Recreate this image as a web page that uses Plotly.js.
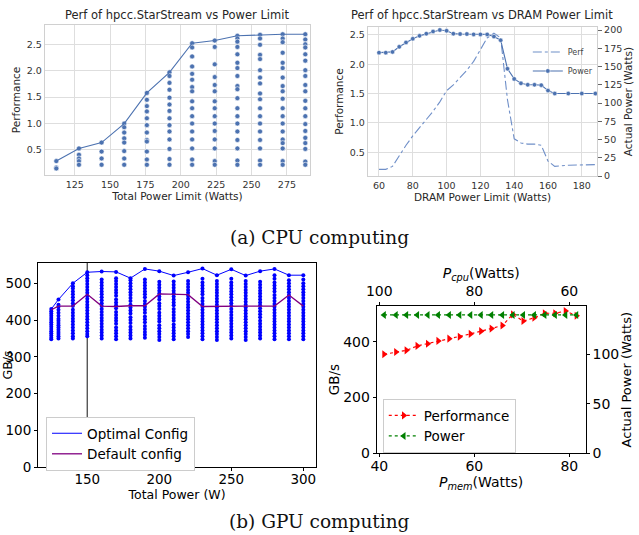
<!DOCTYPE html>
<html>
<head>
<meta charset="utf-8">
<script src="https://cdn.plot.ly/plotly-3.0.1.min.js"></script>
<style>html,body{margin:0;padding:0;background:#fff}#chart{width:639px;height:535px}</style>
</head>
<body>
<div id="chart"></div>
<script>
// ---------- (a) left: Perf vs total power limit ----------
const tlX = [112,128,144,160,176,192,208,224,240,256,272,288];
const tlBest = [0.29,0.53,0.64,1.00,1.58,1.97,2.52,2.57,2.66,2.68,2.69,2.69];
const tlPts = [
 [0.29,0.17,0.15],
 [0.53,0.41,0.34,0.29,0.22],
 [0.64,0.47,0.34,0.22],
 [1.00,0.93,0.83,0.72,0.64,0.48,0.34,0.22],
 [1.58,1.45,1.33,1.23,1.10,0.97,0.83,0.69,0.66,0.47,0.32,0.22],
 [1.97,1.90,1.77,1.64,1.49,1.36,1.24,1.10,0.97,0.85,0.70,0.52,0.33,0.22],
 [2.52,2.44,2.27,2.08,1.94,1.83,1.69,1.61,1.42,1.29,1.14,1.00,0.85,0.70,0.53,0.32,0.22],
 [2.57,2.45,2.12,1.88,1.73,1.61,1.42,1.29,1.14,1.00,0.86,0.70,0.53,0.29,0.22],
 [2.66,2.61,2.55,2.45,2.31,2.15,2.05,1.90,1.71,1.65,1.48,1.29,1.14,1.00,0.85,0.69,0.53,0.30,0.22],
 [2.68,2.61,2.49,2.30,2.22,2.01,1.87,1.76,1.57,1.46,1.29,1.14,1.00,0.85,0.69,0.53,0.30,0.22],
 [2.69,2.61,2.54,2.34,2.15,2.05,1.87,1.71,1.61,1.47,1.29,1.14,1.00,0.85,0.70,0.63,0.53,0.29,0.22],
 [2.69,2.59,2.50,2.44,2.31,2.19,2.01,1.90,1.73,1.61,1.43,1.29,1.14,0.99,0.86,0.73,0.63,0.52,0.28,0.22]
];
const tlXTicks = [125,150,175,200,225,250,275];
const tlYTicks = [0.5,1.0,1.5,2.0,2.5];

// ---------- (a) right: Perf vs DRAM power limit ----------
const trX = [60,64,68,72,76,80,84,88,92,96,100,104,108,112,116,120,124,128,132,136,140,144,148,152,156,160,164,172,180,188];
const trPerf = [0.21,0.21,0.26,0.45,0.62,0.78,0.92,1.05,1.20,1.36,1.55,1.65,1.77,1.90,2.05,2.25,2.45,2.53,2.45,1.40,0.73,0.66,0.64,0.64,0.62,0.35,0.26,0.28,0.29,0.29];
const trPower = [169,169,170,177,183,188,192,195,198,200,199,195,194.5,194.5,194,194,194,191,186,147,133,127,125,125,124.5,117,113,113,113,113];
const trXTicks = [60,80,100,120,140,160,180];
const trYTicks = [0.5,1.0,1.5,2.0,2.5];
const trY2Ticks = [0,25,50,75,100,125,150,175,200];

// ---------- (b) left: GB/s vs total power ----------
const blX = [125,130,140,150,160,170,180,190,200,210,220,230,240,250,260,270,280,290,300];
const blOptimal = [430,456,500,530,532,531,514,539,533,521,530,540,522,538,521,533,539,522,522];
const blDefault = [428,438,438,470,438,437,439,439,471,469,469,437,438,438,438,438,438,468,438];
const blPts = [
 [348,352,358,364,370,376,382,388,394,400,406,412,418,424,430],
 [350,356,362,368,374,380,386,392,398,404,412,420,428,436,442,456],
 [350,356,364,372,380,388,396,404,412,420,428,438,446,454,462,470,478,486,492,500],
 [356,362,370,378,386,394,402,410,418,426,434,442,450,458,466,474,482,490,498,506,514,522,530],
 [350,358,366,374,382,390,398,406,414,422,430,438,446,454,462,470,478,486,494,502,510,532],
 [348,356,364,372,380,390,398,406,414,422,432,440,448,456,466,474,482,490,498,506,514,531],
 [350,358,366,374,382,392,400,408,418,426,434,442,452,460,468,476,484,492,500,508,514],
 [352,360,368,376,384,394,402,410,420,428,436,444,452,462,470,478,486,494,502,510,539],
 [346,354,362,370,378,386,396,404,412,420,430,438,446,456,464,472,480,488,496,504,533],
 [348,356,364,372,380,388,398,406,414,422,430,440,448,456,464,472,480,488,496,505,521],
 [354,362,370,378,386,394,402,410,418,426,434,442,450,458,466,474,482,490,498,506,530],
 [348,356,364,372,380,388,396,404,412,420,428,436,444,452,460,470,478,486,494,502,512,540],
 [346,354,362,370,378,386,394,402,410,418,426,434,442,450,458,466,474,482,490,498,506,522],
 [350,358,366,374,382,390,398,406,414,422,430,438,446,454,462,470,478,486,494,502,512,538],
 [346,354,362,370,378,386,394,402,410,418,426,434,442,450,458,466,474,482,490,498,506,521],
 [350,358,366,374,382,390,398,408,416,424,432,440,448,456,464,472,480,488,496,504,533],
 [348,356,364,372,380,388,396,404,412,420,428,436,444,452,460,468,478,486,494,502,512,522,539],
 [348,356,364,372,380,388,396,404,412,420,428,436,444,452,460,468,476,484,492,500,508,522],
 [348,356,364,372,380,388,396,404,412,420,428,436,444,452,460,468,476,484,492,500,510,522]
];
const blVLine = 150;
const blXTicks = [150,200,250,300];
const blYTicks = [0,100,200,300,400,500];

// ---------- (b) right: GB/s vs P_mem (bottom) / P_cpu (top) ----------
const brMem = [41,43.5,45.7,48,50.2,52.4,54.7,56.9,59.2,61.4,63.6,65.9,68.1,70.3,72.6,74.8,77,79.2,81.5];
const brCpu = [99,96.5,94.3,92,89.8,87.6,85.3,83.1,80.8,78.6,76.4,74.1,71.9,69.7,67.4,65.2,63,60.8,58.5];
const brPerf = [355,363,369,385,393,403,411,418,428,438,447,458,498,474,486,502,502,510,493];
const brPower = [140,140,140,140,140,140,140,140,140,140,140,140,140,140,140,140,140,140,140];
const brMemTicks = [40,60,80];
const brCpuTicks = [60,80,100];
const brYTicks = [0,200,400];
const brY2Ticks = [0,50,100];

const SB = '#4c72b0';
const F = 'DejaVu Sans';

const flatX = (xs, pts) => xs.flatMap((x, i) => pts[i].map(() => x));
const flatY = pts => pts.flat();

const traces = [
  {x: flatX(tlX, tlPts), y: flatY(tlPts), xaxis:'x', yaxis:'y', mode:'markers', type:'scatter',
   marker:{color:SB, size:5, line:{color:'white', width:0.6}}, showlegend:false},
  {x: tlX, y: tlBest, xaxis:'x', yaxis:'y', mode:'lines', type:'scatter',
   line:{color:SB, width:1.1}, showlegend:false},
  {x: trX, y: trPerf, xaxis:'x2', yaxis:'y2', mode:'lines', type:'scatter', name:'Perf',
   line:{color:'#6f8fc8', width:1.1, dash:'dashdot'}, legend:'legend'},
  {x: trX, y: trPower, xaxis:'x2', yaxis:'y3', mode:'lines+markers', type:'scatter', name:'Power',
   line:{color:SB, width:1.1}, marker:{color:SB, size:4.5, line:{color:'white', width:0.5}}, legend:'legend'},
  {x: flatX(blX, blPts), y: flatY(blPts), xaxis:'x4', yaxis:'y4', mode:'markers', type:'scatter',
   marker:{color:'#0000ff', size:4}, showlegend:false},
  {x: blX, y: blOptimal, xaxis:'x4', yaxis:'y4', mode:'lines', type:'scatter', name:'Optimal Config',
   line:{color:'#0000ff', width:1}, legend:'legend2'},
  {x: blX, y: blDefault, xaxis:'x4', yaxis:'y4', mode:'lines', type:'scatter', name:'Default config',
   line:{color:'#800080', width:1.3}, legend:'legend2'},
  {x: brMem, y: brPerf, xaxis:'x5', yaxis:'y5', mode:'lines+markers', type:'scatter', name:'Performance',
   line:{color:'#ff0000', width:1.2, dash:'dot'}, marker:{symbol:'triangle-right', size:7, color:'#ff0000'}, legend:'legend3'},
  {x: brCpu, y: brPower, xaxis:'x6', yaxis:'y6', mode:'lines+markers', type:'scatter', name:'Power',
   line:{color:'#008000', width:1.2, dash:'dot'}, marker:{symbol:'triangle-left', size:7, color:'#008000'}, legend:'legend3'}
];

const sbAxis = (extra) => Object.assign({
  showgrid:true, gridcolor:'#dedede', gridwidth:1, zeroline:false,
  showline:true, linecolor:'#d0d0d0', linewidth:1.2, mirror:true,
  ticks:'', tickfont:{family:F, size:9.5, color:'#333'}, automargin:false,
  title:{font:{family:F, size:10.5, color:'#262626'}}
}, extra);

const mplAxis = (extra, fs) => Object.assign({
  showgrid:false, zeroline:false, showline:true, linecolor:'#000', linewidth:1, mirror:true,
  ticks:'outside', ticklen:3, tickwidth:1, tickcolor:'#000',
  tickfont:{family:F, size:fs, color:'#000'}, automargin:false,
  title:{font:{family:F, size:13, color:'#000'}}
}, extra);

const layout = {
  width:639, height:535, margin:{l:0,r:0,t:0,b:0},
  paper_bgcolor:'#fff', plot_bgcolor:'#fff',
  font:{family:F},
  xaxis: sbAxis({domain:[0.0704,0.4851], anchor:'y', range:[104,291.3], tickvals:tlXTicks,
    title:{text:'Total Power Limit (Watts)', standoff:2, font:{family:F, size:10.5, color:'#262626'}}}),
  yaxis: sbAxis({domain:[0.6729,0.9533], anchor:'x', range:[0.027,2.865], tickvals:tlYTicks,
    ticktext:tlYTicks.map(v=>v.toFixed(1)),
    title:{text:'Performance', standoff:4, font:{family:F, size:10.5, color:'#262626'}}}),
  xaxis2: sbAxis({domain:[0.5759,0.9343], anchor:'y2', range:[53.5,189], tickvals:trXTicks,
    title:{text:'DRAM Power Limit (Watts)', standoff:2, font:{family:F, size:10.5, color:'#262626'}}}),
  yaxis2: sbAxis({domain:[0.6710,0.9495], anchor:'x2', range:[0.096,2.636], tickvals:trYTicks,
    ticktext:trYTicks.map(v=>v.toFixed(1)),
    title:{text:'Performance', standoff:4, font:{family:F, size:10.5, color:'#262626'}}}),
  yaxis3: sbAxis({overlaying:'y2', side:'right', anchor:'x2', range:[0,204.1], tickvals:trY2Ticks,
    showgrid:false, ticks:'outside', ticklen:4, tickcolor:'#666', mirror:false,
    title:{text:'Actual Power (Watts)', standoff:2, font:{family:F, size:10.5, color:'#262626'}}}),
  xaxis4: mplAxis({domain:[0.0595,0.4945], anchor:'y4', range:[115.8,308.8], tickvals:blXTicks, ticklabelstandoff:-4,
    title:{text:'Total Power (W)', standoff:0, font:{family:F, size:12.5, color:'#000'}}}, 13.5),
  yaxis4: mplAxis({domain:[0.1265,0.5090], anchor:'x4', range:[0,556], tickvals:blYTicks,
    title:{text:'GB/s', standoff:3, font:{family:F, size:12.5, color:'#000'}}}, 13.5),
  xaxis5: mplAxis({domain:[0.5895,0.9166], anchor:'y5', range:[39.45,83.45], tickvals:brMemTicks, mirror:false, ticklabelstandoff:-3,
    title:{text:'<i>P</i><sub><i>mem</i></sub>(Watts)', standoff:0, font:{family:F, size:14, color:'#000'}}}, 14),
  xaxis6: mplAxis({overlaying:'x5', side:'top', anchor:'y5', range:[100.55,56.55], tickvals:brCpuTicks, mirror:false,
    title:{text:'<i>P</i><sub><i>cpu</i></sub>(Watts)', standoff:0, font:{family:F, size:14, color:'#000'}}}, 14),
  yaxis5: mplAxis({domain:[0.1527,0.4280], anchor:'x5', range:[0,528], tickvals:brYTicks, mirror:false,
    title:{text:'GB/s', standoff:0, font:{family:F, size:13.5, color:'#000'}}}, 14),
  yaxis6: mplAxis({overlaying:'y5', side:'right', anchor:'x5', range:[0,149], tickvals:brY2Ticks, mirror:false,
    title:{text:'Actual Power (Watts)', standoff:0, font:{family:F, size:13, color:'#000'}}}, 14),
  legend: {x:0.826, y:0.93, xanchor:'left', yanchor:'top', bgcolor:'rgba(255,255,255,0)',
    font:{family:F, size:8, color:'#444'}, itemwidth:30, tracegroupgap:0},
  legend2: {x:0.072, y:0.2206, xanchor:'left', yanchor:'top', bgcolor:'#fff', bordercolor:'#cccccc', borderwidth:1,
    font:{family:F, size:13.5, color:'#000'}, itemwidth:30},
  legend3: {x:0.599, y:0.254, xanchor:'left', yanchor:'top', bgcolor:'#fff', bordercolor:'#cccccc', borderwidth:1,
    font:{family:F, size:13.5, color:'#000'}, itemwidth:30},
  shapes: [
    {type:'line', xref:'x4', yref:'y4 domain', x0:blVLine, x1:blVLine, y0:0, y1:1, line:{color:'#555', width:1.4}, layer:'below'}
  ],
  annotations: [
    {text:'Perf of hpcc.StarStream vs Power Limit', xref:'paper', yref:'paper', x:0.277, y:0.972,
     xanchor:'center', yanchor:'middle', showarrow:false, font:{family:F, size:11.5, color:'#262626'}},
    {text:'Perf of hpcc.StarStream vs DRAM Power Limit', xref:'paper', yref:'paper', x:0.754, y:0.972,
     xanchor:'center', yanchor:'middle', showarrow:false, font:{family:F, size:11.5, color:'#262626'}},
    {text:'(a) CPU computing', xref:'paper', yref:'paper', x:0.5, y:0.557,
     xanchor:'center', yanchor:'middle', showarrow:false, font:{family:'DejaVu Serif', size:18.5, color:'#111'}},
    {text:'(b) GPU computing', xref:'paper', yref:'paper', x:0.5, y:0.026,
     xanchor:'center', yanchor:'middle', showarrow:false, font:{family:'DejaVu Serif', size:18.5, color:'#111'}}
  ]
};

Plotly.newPlot('chart', traces, layout, {staticPlot:true, displayModeBar:false});
</script>
</body>
</html>
